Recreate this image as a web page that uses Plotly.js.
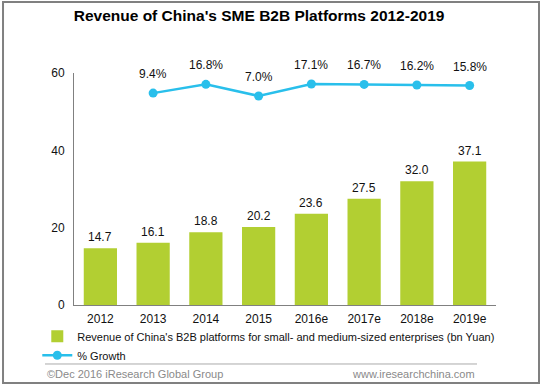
<!DOCTYPE html>
<html>
<head>
<meta charset="utf-8">
<script src="https://cdn.plot.ly/plotly-3.0.1.min.js"></script>
<style>
html,body{margin:0;padding:0;background:#fff;}
#chart{width:542px;height:387px;}
</style>
</head>
<body>
<div id="chart"></div>
<script>
const years = ['2012','2013','2014','2015','2016e','2017e','2018e','2019e'];
const revenue = [14.7, 16.1, 18.8, 20.2, 23.6, 27.5, 32.0, 37.1];
const growthYears = ['2013','2014','2015','2016e','2017e','2018e','2019e'];
const growth = [9.4, 16.8, 7.0, 17.1, 16.7, 16.2, 15.8];
const revenueName = "Revenue of China's B2B platforms for small- and medium-sized enterprises (bn Yuan)";
const growthName = "% Growth";

const FONT = 'Liberation Sans, Arial, sans-serif';
const barColor = '#b2cf32';
const lineColor = '#29bfeb';

const traces = [
  {
    type: 'bar', x: years, y: revenue, name: revenueName,
    marker: {color: barColor}, hoverinfo: 'skip'
  },
  {
    type: 'scatter', mode: 'lines+markers', x: growthYears, y: growth, name: growthName,
    yaxis: 'y2', line: {color: lineColor, width: 2.5},
    marker: {color: lineColor, size: 9}, hoverinfo: 'skip'
  }
];

const annotations = [];
years.forEach((yr, i) => {
  annotations.push({
    x: i, y: revenue[i], xref: 'x', yref: 'y', text: revenue[i].toFixed(1),
    showarrow: false, yanchor: 'middle', yshift: 11,
    font: {family: FONT, size: 12, color: '#111'}
  });
});
growthYears.forEach((yr, i) => {
  annotations.push({
    x: years.indexOf(yr), y: growth[i], xref: 'x', yref: 'y2', text: growth[i].toFixed(1) + '%',
    showarrow: false, yanchor: 'middle', yshift: 19,
    font: {family: FONT, size: 12, color: '#111'}
  });
});
annotations.push({
  xref: 'paper', yref: 'paper', x: -0.069, y: -0.297, xanchor: 'left', yanchor: 'middle',
  text: '©Dec 2016 iResearch Global Group', showarrow: false,
  font: {family: FONT, size: 11, color: '#8a8a8a'}
});
annotations.push({
  xref: 'paper', yref: 'paper', x: 0.955, y: -0.297, xanchor: 'right', yanchor: 'middle',
  text: 'www.iresearchchina.com', showarrow: false,
  font: {family: FONT, size: 11, color: '#8a8a8a'}
});

const layout = {
  width: 542, height: 387,
  margin: {l: 74, r: 46, t: 73, b: 82},
  paper_bgcolor: '#fff', plot_bgcolor: '#fff',
  font: {family: FONT, size: 12, color: '#111'},
  title: {
    text: "<b>Revenue of China's SME B2B Platforms 2012-2019</b>",
    x: 0.478, xanchor: 'center', y: 0.961, yanchor: 'middle',
    font: {family: FONT, size: 15.5, color: '#000'}
  },
  bargap: 0.37,
  xaxis: {
    type: 'category', categoryorder: 'array', categoryarray: years,
    range: [-0.5, years.length - 0.5],
    showgrid: false, zeroline: false,
    showline: true, linecolor: '#808080', linewidth: 1,
    ticks: '', ticklabelstandoff: 3,
    tickfont: {family: FONT, size: 12, color: '#111'}
  },
  yaxis: {
    range: [0, 60], tickvals: [0, 20, 40, 60], showgrid: false, zeroline: false,
    showline: true, linecolor: '#808080', linewidth: 1,
    ticks: '', ticklabelstandoff: 6,
    tickfont: {family: FONT, size: 12, color: '#111'}
  },
  yaxis2: {
    overlaying: 'y', side: 'right', range: [-168.6, 26.3], visible: false
  },
  showlegend: true,
  legend: {
    x: -0.087, y: -0.072, xanchor: 'left', yanchor: 'top',
    orientation: 'v', bgcolor: 'rgba(0,0,0,0)',
    font: {family: FONT, size: 11, color: '#111'},
    tracegroupgap: 0, itemclick: false
  },
  shapes: [
    {type: 'rect', xref: 'paper', yref: 'paper', x0: -0.1682, x1: 1.1019, y0: -0.336, y1: 1.306,
     line: {color: '#808080', width: 2}},
    {type: 'line', xref: 'paper', yref: 'paper', x0: -0.0687, x1: 0.955, y0: -0.2543, y1: -0.2543,
     line: {color: '#aaaaaa', width: 1}}
  ],
  annotations: annotations
};

Plotly.newPlot('chart', traces, layout, {displayModeBar: false, staticPlot: true});
</script>
</body>
</html>
